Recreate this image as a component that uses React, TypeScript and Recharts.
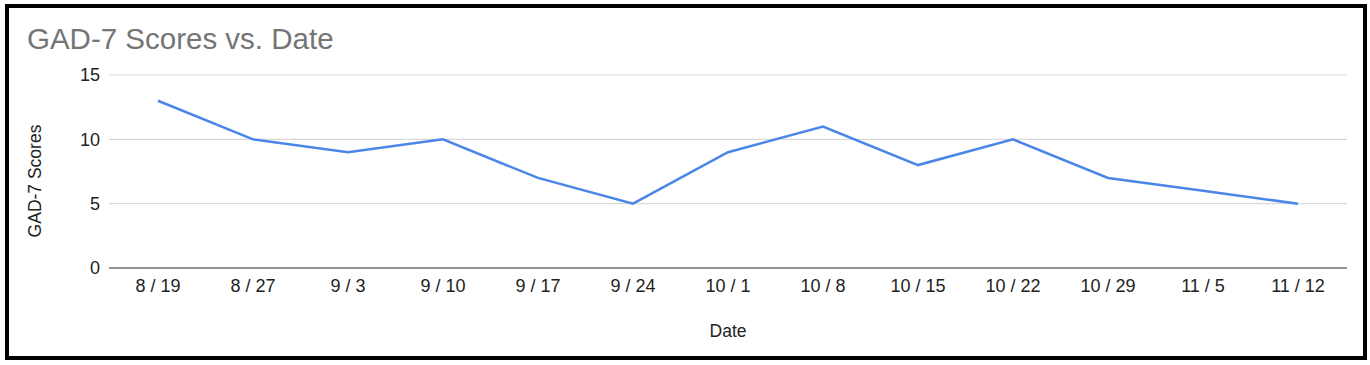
import { CartesianGrid, Line, LineChart, XAxis, YAxis } from "recharts";

const dates = ["8 / 19", "8 / 27", "9 / 3", "9 / 10", "9 / 17", "9 / 24", "10 / 1", "10 / 8", "10 / 15", "10 / 22", "10 / 29", "11 / 5", "11 / 12"];
const scores = [13, 10, 9, 10, 7, 5, 9, 11, 8, 10, 7, 6, 5];
const yTicks = [0, 5, 10, 15];

const data = dates.map((date, i) => ({ date, score: scores[i] }));

const FONT = "Arial, 'Liberation Sans', sans-serif";

export default function App() {
  return (
    <div style={{ position: "absolute", left: 0, top: 0, width: 1370, height: 365, background: "#fff", fontFamily: FONT }}>
      <div
        style={{
          position: "absolute",
          left: 5,
          top: 4,
          width: 1362,
          height: 356,
          border: "4px solid #000",
          boxSizing: "border-box",
        }}
      />
      <div style={{ position: "absolute", left: 27, top: 24, fontSize: 29.5, lineHeight: 1, color: "#757575", whiteSpace: "nowrap" }}>
        GAD-7 Scores vs. Date
      </div>
      <div style={{ position: "absolute", left: 0, top: 0 }}>
        <LineChart width={1370} height={365} data={data} margin={{ top: 75, right: 23, bottom: 17, left: 49 }}>
          <CartesianGrid horizontal vertical={false} stroke="#d9d9d9" strokeWidth={1.2} />
          <XAxis
            dataKey="date"
            height={80}
            padding={{ left: 49, right: 49 }}
            tickLine={false}
            axisLine={{ stroke: "#777", strokeWidth: 1.5 }}
            tickMargin={5}
            tick={{ fill: "#222", fontSize: 18, fontFamily: FONT }}
            interval={0}
            label={{ value: "Date", position: "insideBottom", offset: 11, fill: "#222", fontSize: 17.5, fontFamily: FONT }}
          />
          <YAxis
            width={60}
            domain={[0, 15]}
            ticks={yTicks}
            axisLine={false}
            tickLine={false}
            tickMargin={3}
            tick={{ fill: "#222", fontSize: 18, fontFamily: FONT }}
            label={{
              content: () => (
                <text
                  x={35}
                  y={181}
                  transform="rotate(-90, 35, 181)"
                  textAnchor="middle"
                  dominantBaseline="central"
                  fill="#222"
                  fontSize={17.5}
                  fontFamily={FONT}
                >
                  GAD-7 Scores
                </text>
              ),
            }}
          />
          <Line type="linear" dataKey="score" stroke="#4a86e8" strokeWidth={2.5} dot={false} isAnimationActive={false} />
        </LineChart>
      </div>
    </div>
  );
}
